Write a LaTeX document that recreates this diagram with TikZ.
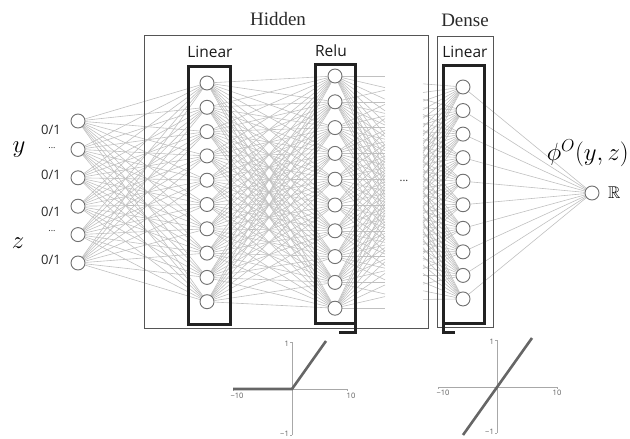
\documentclass[tikz,border=0pt]{standalone}
\usepackage{amssymb}
\usepackage{fontspec}
\newfontfamily\labelsans{Open Sans}
\newfontfamily\ticksans{Noto Sans}
\newfontfamily\titleserif{Liberation Serif}
\definecolor{linkgray}{HTML}{C0C0C0}
\definecolor{ringgray}{HTML}{707070}
\definecolor{framegray}{HTML}{555555}
\definecolor{boxblack}{HTML}{222222}
\definecolor{textdark}{HTML}{2A2A2A}
\definecolor{axisgray}{HTML}{A8A8A8}
\definecolor{curvegray}{HTML}{666666}
\pgfdeclarelayer{links}
\pgfdeclarelayer{frames}
\pgfsetlayers{links,frames,main}
\tikzset{
  neuron/.style={circle, draw=ringgray, line width=0.9pt, fill=white,
    minimum size=14pt, inner sep=0pt},
  link/.style={draw=linkgray, line width=0.6pt},
  layerbox/.style={draw=framegray, line width=0.9pt},
  thickbox/.style={draw=boxblack, line width=3pt},
  title/.style={font=\titleserif\fontsize{19}{19}\selectfont, text=textdark},
  sublabel/.style={font=\labelsans\fontsize{15.5}{16}\selectfont, text=black!90},
  bitlabel/.style={font=\labelsans\fontsize{13}{13}\selectfont, text=textdark},
  dotslabel/.style={font=\labelsans\fontsize{9}{9}\selectfont, text=textdark},
  mathlabel/.style={font=\fontsize{23}{23}\selectfont},
  axisline/.style={draw=axisgray, line width=0.8pt},
  curveline/.style={draw=curvegray, line width=2.6pt},
  ticklbl/.style={font=\ticksans\fontsize{7.5}{7.5}\selectfont, text=black!60, inner sep=1pt}
}
\begin{document}
\begin{tikzpicture}[x=1pt,y=-1pt]
\useasboundingbox (0,0) rectangle (630,439);

% ---------- neurons ----------
\foreach \i in {1,...,6}
  \node[neuron] (in-\i) at (78,{121+28.4*(\i-1)}) {};
\foreach \i in {1,...,10}
  \node[neuron] (lin-\i) at (207,{83+24.3*(\i-1)}) {};
\foreach \i in {1,...,10}
  \node[neuron] (relu-\i) at (335,{76+25.8*(\i-1)}) {};
\foreach \i in {1,...,10}
  \node[neuron] (den-\i) at (463,{87+23.55*(\i-1)}) {};
\node[neuron] (out) at (592,193) {};

% ---------- connections ----------
\begin{pgfonlayer}{links}
  \foreach \i in {1,...,6}
    \foreach \j in {1,...,10}
      \draw[link] (in-\i) -- (lin-\j);
  \foreach \i in {1,...,10}
    \foreach \j in {1,...,10}
      \draw[link] (lin-\i) -- (relu-\j);
  % truncated fans leaving the Relu layer
  \foreach \i in {1,...,10}
    \foreach \j in {1,...,10} {
      \pgfmathsetmacro{\ya}{76+25.8*(\i-1)}
      \pgfmathsetmacro{\yb}{76+25.8*(\j-1)}
      \coordinate (rf-\i-\j) at (385,{\ya+(\yb-\ya)*0.45});
      \draw[link] (relu-\i) -- (rf-\i-\j);
    }
  % truncated fans entering the dense layer
  \foreach \k in {1,...,10}
    \foreach \j in {1,...,10} {
      \pgfmathsetmacro{\ya}{87+23.55*(\k-1)}
      \pgfmathsetmacro{\yb}{78+24.7*(\j-1)}
      \coordinate (df-\k-\j) at (423,{\ya+(\yb-\ya)*0.35});
      \draw[link] (df-\k-\j) -- (den-\k);
    }
  \foreach \k in {1,...,10}
    \draw[link] (den-\k) -- (out);
\end{pgfonlayer}

% ---------- frames ----------
\begin{pgfonlayer}{frames}
  \draw[layerbox] (144,35) rectangle (428,328);
  \draw[layerbox] (437,36) rectangle (493,327);
  \draw[thickbox] (188,66) rectangle (230,324);
  \draw[thickbox] (315,64) rectangle (355,323);
  \draw[thickbox] (355,323) -- (355,332) -- (339,332);
  \draw[thickbox] (443,65) rectangle (484,323);
  \draw[thickbox] (443,323) -- (443,332) -- (455,332);
\end{pgfonlayer}

% ---------- titles ----------
\node[title] (hidden-t) at (278,19) {Hidden};
\node[title] (dense-t) at (465,20) {Dense};
\node[sublabel] (lin-t) at (210,52) {Linear};
\node[sublabel] (relu-t) at (331,51) {Relu};
\node[sublabel] (den-t) at (465,52) {Linear};

% ---------- input labels ----------
\node[bitlabel] (b1) at (51,130) {0/1};
\node[dotslabel] (d1) at (52,148) {...};
\node[bitlabel] (b2) at (51,175) {0/1};
\node[bitlabel] (b3) at (51,212) {0/1};
\node[dotslabel] (d2) at (52,231) {...};
\node[bitlabel] (b4) at (51,260) {0/1};
\node[mathlabel] (ylab) at (19,150) {$y$};
\node[mathlabel] (zlab) at (18,243) {$z$};
\node[dotslabel, font=\labelsans\fontsize{11}{11}\selectfont] (gap) at (404,181) {...};

% ---------- output labels ----------
\node[mathlabel, anchor=east, inner sep=0pt, font=\fontsize{23.5}{23.5}\selectfont] (phi) at (629,153) {$\phi^O(y,z)$};
\node[anchor=west, inner sep=0pt, font=\fontsize{17}{17}\selectfont] (reals) at (608,193) {$\mathbb{R}$};

% ---------- ReLU plot ----------
\coordinate (r-o) at (292,389);
\coordinate (r-l) at (233,389);
\coordinate (r-r) at (347,389);
\coordinate (r-t) at (292,342);
\coordinate (r-b) at (292,435);
\coordinate (r-k) at (326,341);
\draw[axisline] (r-l) -- (r-r);
\draw[axisline] (r-t) -- (r-b);
\draw[axisline] (r-t) -- ++(-2,0);
\draw[axisline] (r-b) -- ++(-2,0);
\draw[axisline] (r-l) -- ++(0,2);
\draw[axisline] (r-r) -- ++(0,2);
\draw[curveline, line join=miter] (r-l) -- (r-o) -- (r-k);
\node[ticklbl, anchor=east] (r-1) at (290,344) {1};
\node[ticklbl, anchor=east] (r-m1) at (290,434) {−1};
\node[ticklbl] (r-m10) at (237,396) {−10};
\node[ticklbl] (r-10) at (351,396) {10};

% ---------- linear plot ----------
\coordinate (l-l) at (438,387);
\coordinate (l-r) at (557,387);
\coordinate (l-t) at (497,340);
\coordinate (l-b) at (497,433);
\coordinate (l-s) at (463,435);
\coordinate (l-e) at (532,338);
\draw[axisline] (l-l) -- (l-r);
\draw[axisline] (l-t) -- (l-b);
\draw[axisline] (l-t) -- ++(-2,0);
\draw[axisline] (l-b) -- ++(-2,0);
\draw[axisline] (l-l) -- ++(0,2);
\draw[axisline] (l-r) -- ++(0,2);
\draw[curveline] (l-s) -- (l-e);
\node[ticklbl, anchor=east] (l-1) at (495,342) {1};
\node[ticklbl, anchor=east] (l-m1) at (495,432) {−1};
\node[ticklbl] (l-m10) at (443,393) {−10};
\node[ticklbl] (l-10) at (557,393) {10};
\end{tikzpicture}
\end{document}
